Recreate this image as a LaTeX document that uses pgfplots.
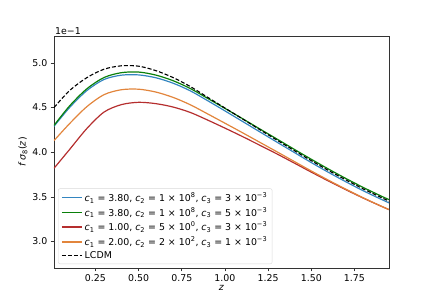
\documentclass[border=0pt]{standalone}
\usepackage{fontspec}
\setmainfont{DejaVu Sans}
\usepackage{pgfplots}
\pgfplotsset{compat=1.18}
\usepackage{pgfplotstable}
\definecolor{cblue}{HTML}{3385C0}
\definecolor{cgreen}{HTML}{0A800A}
\definecolor{cred}{HTML}{B52E2E}
\definecolor{corange}{HTML}{E2853C}
\newcommand{\ci}[1]{\textit{c}\textsubscript{#1}}
\pgfplotstableread{
z lcdm green blue orange red
0.01 0.4500 0.4300 0.4290 0.4130 0.3820
0.10 0.4690 0.4518 0.4500 0.4320 0.4030
0.20 0.4835 0.4710 0.4690 0.4510 0.4265
0.30 0.4930 0.4837 0.4815 0.4645 0.4450
0.40 0.4968 0.4891 0.4863 0.4700 0.4533
0.50 0.4964 0.4898 0.4866 0.4706 0.4559
0.60 0.4914 0.4864 0.4834 0.4674 0.4544
0.70 0.4836 0.4801 0.4773 0.4614 0.4506
0.80 0.4735 0.4713 0.4687 0.4531 0.4445
0.90 0.4615 0.4603 0.4577 0.4429 0.4360
1.00 0.4495 0.4491 0.4463 0.4325 0.4270
1.10 0.4375 0.4378 0.4347 0.4220 0.4177
1.20 0.4255 0.4263 0.4230 0.4113 0.4080
1.30 0.4137 0.4149 0.4114 0.4006 0.3982
1.40 0.4020 0.4034 0.3999 0.3898 0.3880
1.50 0.3905 0.3921 0.3884 0.3790 0.3777
1.60 0.3795 0.3811 0.3774 0.3686 0.3677
1.70 0.3690 0.3706 0.3669 0.3586 0.3580
1.80 0.3590 0.3606 0.3569 0.3490 0.3487
1.90 0.3497 0.3513 0.3477 0.3400 0.3399
1.95 0.3453 0.3469 0.3433 0.3358 0.3357
}\datatable
\begin{document}
\fontsize{9.4}{11}\selectfont
\begin{tikzpicture}
\path[use as bounding box] (-54pt,-34pt) rectangle (378pt,268pt);
\begin{axis}[
  at={(0,0)}, anchor=south west,
  scale only axis, width=335pt, height=232pt,
  xmin=0.01, xmax=1.95, ymin=0.2703, ymax=0.5302,
  xtick={0.25,0.5,0.75,1.0,1.25,1.5,1.75},
  ytick={0.30,0.35,0.40,0.45,0.50},
  scaled y ticks=base 10:1,
  ytick scale label code/.code={1e−1},
  every y tick scale label/.style={at={(rel axis cs:0,1)}, anchor=south west, inner sep=1pt},
  xticklabel style={/pgf/number format/fixed, /pgf/number format/fixed zerofill, /pgf/number format/precision=2},
  yticklabel style={/pgf/number format/fixed, /pgf/number format/fixed zerofill, /pgf/number format/precision=1},
  /pgf/number format/assume math mode=true,
  tick align=outside, tick pos=left,
  major tick length=3.3pt,
  every tick/.style={black!80, line width=0.7pt},
  axis line style={black!80, line width=0.8pt},
  xlabel={\textit{z}}, ylabel={\textit{f}\,\textit{σ}\textsubscript{8}(\textit{z})},
  xlabel style={yshift=3pt},
  ylabel style={yshift=-1.5pt},
  legend cell align=left,
  legend style={at={(0.012,0.017)}, anchor=south west, draw=black!15, rounded corners=2pt,
    fill=white, fill opacity=0.8, text opacity=1, font=\fontsize{9.4}{11}\selectfont,
    row sep=0.6pt, inner xsep=3pt, inner ysep=2pt},
  legend image code/.code={\draw[#1, line width=1.5pt] (0pt,0pt) -- (20pt,0pt);},
]
\addplot[cblue, line width=1.2pt, smooth] table[x=z, y=blue] {\datatable};
\addlegendentry{\ci{1} = 3.80, \ci{2} = 1 × 10\textsuperscript{8}, \ci{3} = 3 × 10\textsuperscript{−3}}
\addplot[cgreen, line width=1.2pt, smooth] table[x=z, y=green] {\datatable};
\addlegendentry{\ci{1} = 3.80, \ci{2} = 1 × 10\textsuperscript{8}, \ci{3} = 5 × 10\textsuperscript{−3}}
\addplot[cred, line width=1.2pt, smooth] table[x=z, y=red] {\datatable};
\addlegendentry{\ci{1} = 1.00, \ci{2} = 5 × 10\textsuperscript{0}, \ci{3} = 3 × 10\textsuperscript{−3}}
\addplot[corange, line width=1.2pt, smooth] table[x=z, y=orange] {\datatable};
\addlegendentry{\ci{1} = 2.00, \ci{2} = 2 × 10\textsuperscript{2}, \ci{3} = 1 × 10\textsuperscript{−3}}
\addplot[black, dash pattern=on 4pt off 2pt, line width=1.1pt, smooth] table[x=z, y=lcdm] {\datatable};
\addlegendentry{LCDM}
\end{axis}
\end{tikzpicture}
\end{document}
